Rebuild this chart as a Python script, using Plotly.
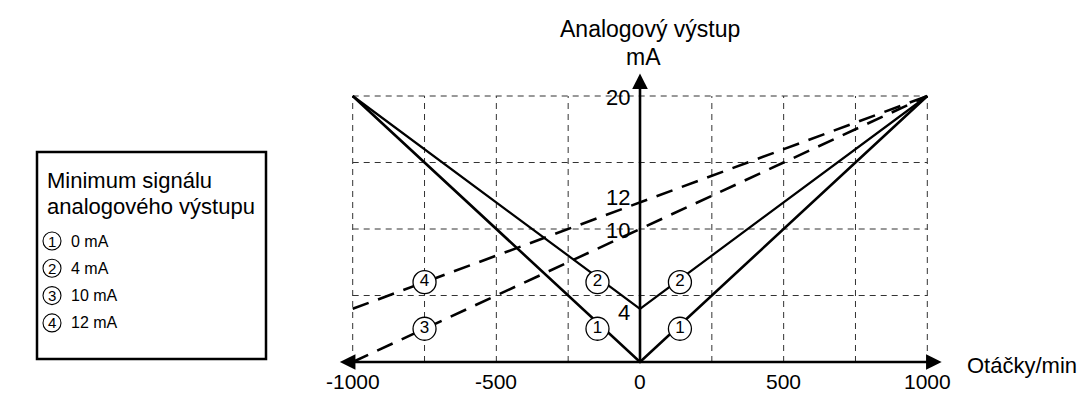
import plotly.graph_objects as go

# ---------------- data ----------------
speed_v = [-1000, 0, 1000]
out_0mA = [20, 0, 20]
out_4mA = [20, 4, 20]
speed_lin = [-1000, 1000]
out_10mA = [0, 20]
out_12mA = [4, 20]

grid_x = [-1000, -750, -500, -250, 250, 500, 750, 1000]
grid_y = [5, 10, 15, 20]

x_ticks = [-1000, -500, 0, 500, 1000]
x_tick_labels = ["-1000", "-500", "0", "500", "1000"]
y_marks = [20, 12, 10, 4]
y_mark_pos = [19.85, 12.4, 9.9, 3.7]

label_x = [-148, 139, -148, 139, -750, -750]
label_y = [2.5, 2.5, 6.0, 6.0, 2.5, 6.0]
label_txt = ["1", "1", "2", "2", "3", "4"]

legend_title = ["Minimum signálu", "analogového výstupu"]
legend_nums = ["1", "2", "3", "4"]
legend_items = ["0 mA", "4 mA", "10 mA", "12 mA"]

x_title = "Otáčky/min"
y_title = ["Analogový výstup", "mA"]

# ---------------- geometry ----------------
PAGE_W, PAGE_H = 1089, 394
OFF = 8                      # default body margin of the html page
W, H = PAGE_W - OFF, PAGE_H - OFF
X0PX, XS = 640.0, 0.2873     # page pixel of x=0, px per unit
Y0PX, YS = 362.0, 13.3       # page pixel of y=0, px per unit
xr = [-(X0PX - OFF) / XS, (W - (X0PX - OFF)) / XS]
yr = [((Y0PX - OFF) - H) / YS, (Y0PX - OFF) / YS]

FONT = "Liberation Sans, Arial, Helvetica, sans-serif"


def px(x):
    return (x - OFF) / W


def py(y):
    return 1 - (y - OFF) / H


fig = go.Figure()
shapes = []
annotations = []

# grid
for gx in grid_x:
    shapes.append(dict(type="line", x0=gx, x1=gx, y0=0, y1=20, xref="x", yref="y",
                       line=dict(color="#333", width=1, dash="6px,5px"), layer="below"))
for gy in grid_y:
    shapes.append(dict(type="line", x0=-1000, x1=1000, y0=gy, y1=gy, xref="x", yref="y",
                       line=dict(color="#333", width=1, dash="6px,5px"), layer="below"))

# series
fig.add_trace(go.Scatter(x=speed_v, y=out_0mA, mode="lines",
                         line=dict(color="black", width=2.6), hoverinfo="skip"))
fig.add_trace(go.Scatter(x=speed_v, y=out_4mA, mode="lines",
                         line=dict(color="black", width=2.2), hoverinfo="skip"))
fig.add_trace(go.Scatter(x=speed_lin, y=out_10mA, mode="lines",
                         line=dict(color="black", width=2.6, dash="17px,10px"), hoverinfo="skip"))
fig.add_trace(go.Scatter(x=speed_lin, y=out_12mA, mode="lines",
                         line=dict(color="black", width=2.6, dash="17px,10px"), hoverinfo="skip"))

# axes with arrows
annotations.append(dict(x=1050, y=0, ax=-1050, ay=0, xref="x", yref="y", axref="x", ayref="y",
                        showarrow=True, arrowhead=2, arrowsize=1.2, arrowwidth=2.6,
                        arrowside="end+start", arrowcolor="black", text=""))
annotations.append(dict(x=0, y=21.7, ax=0, ay=0, xref="x", yref="y", axref="x", ayref="y",
                        showarrow=True, arrowhead=2, arrowsize=1.2, arrowwidth=2.6,
                        arrowcolor="black", text=""))

# circled labels
fig.add_trace(go.Scatter(x=label_x, y=label_y, mode="markers+text", text=label_txt,
                         textposition="middle center",
                         textfont=dict(family=FONT, size=17, color="black"),
                         marker=dict(symbol="circle", size=23, color="white",
                                     line=dict(color="black", width=1.3)),
                         hoverinfo="skip"))

# tick labels
for xv, tl in zip(x_ticks, x_tick_labels):
    annotations.append(dict(x=xv, y=-1.45, xref="x", yref="y", text=tl, showarrow=False,
                            font=dict(family=FONT, size=21, color="black"),
                            xanchor="center", yanchor="middle"))
for yv, yp in zip(y_marks, y_mark_pos):
    annotations.append(dict(x=-27, y=yp, xref="x", yref="y", text=str(yv), showarrow=False,
                            font=dict(family=FONT, size=22, color="black"),
                            xanchor="right", yanchor="middle"))

# axis titles
annotations.append(dict(x=px(650), y=py(29), xref="paper", yref="paper", text=y_title[0],
                        showarrow=False, font=dict(family=FONT, size=23, color="black"),
                        xanchor="center", yanchor="middle"))
annotations.append(dict(x=px(643), y=py(57), xref="paper", yref="paper", text=y_title[1],
                        showarrow=False, font=dict(family=FONT, size=23, color="black"),
                        xanchor="center", yanchor="middle"))
annotations.append(dict(x=px(965), y=py(365), xref="paper", yref="paper", text=x_title,
                        showarrow=False, font=dict(family=FONT, size=22, color="black"),
                        xanchor="left", yanchor="middle"))

# legend box
BX0, BY0, BX1, BY1 = 37, 152, 266, 359
shapes.append(dict(type="rect", xref="paper", yref="paper", x0=px(BX0), x1=px(BX1),
                   y0=py(BY0), y1=py(BY1), line=dict(color="black", width=2.5),
                   fillcolor="white"))
for i, t in enumerate(legend_title):
    annotations.append(dict(x=px(BX0 + 8), y=py(180 + 26 * i), xref="paper", yref="paper",
                            text=t, showarrow=False,
                            font=dict(family=FONT, size=22, color="black"),
                            xanchor="left", yanchor="middle"))
for i, (n, t) in enumerate(zip(legend_nums, legend_items)):
    cy = 241 + 27.3 * i
    cx = BX0 + 15
    shapes.append(dict(type="circle", xref="paper", yref="paper",
                       xsizemode="pixel", ysizemode="pixel",
                       xanchor=px(cx), yanchor=py(cy),
                       x0=-9, x1=9, y0=-9, y1=9,
                       line=dict(color="black", width=1.1)))
    annotations.append(dict(x=px(cx), y=py(cy), xref="paper", yref="paper", text=n,
                            showarrow=False, font=dict(family=FONT, size=15, color="black"),
                            xanchor="center", yanchor="middle"))
    annotations.append(dict(x=px(cx + 17), y=py(cy), xref="paper", yref="paper", text=t,
                            showarrow=False, font=dict(family=FONT, size=16, color="black"),
                            xanchor="left", yanchor="middle"))

fig.update_layout(
    width=W, height=H, autosize=False,
    margin=dict(l=0, r=0, t=0, b=0),
    paper_bgcolor="white", plot_bgcolor="white",
    showlegend=False,
    xaxis=dict(range=xr, visible=False, fixedrange=True),
    yaxis=dict(range=yr, visible=False, fixedrange=True),
    shapes=shapes, annotations=annotations,
    font=dict(family=FONT, color="black"),
)

fig.write_html("out.html")
